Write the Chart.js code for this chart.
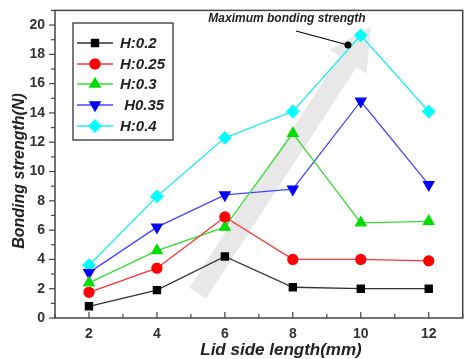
<!DOCTYPE html>
<html>
<head>
<meta charset="utf-8">
<script src="https://cdn.jsdelivr.net/npm/chart.js@4.4.0/dist/chart.umd.min.js"></script>
<style>
  html, body { margin: 0; padding: 0; background: #fff; }
  #wrap { width: 470px; height: 359px; position: relative; }
</style>
</head>
<body>
<div id="wrap"><canvas id="c" width="470" height="359"></canvas></div>
<script>
/* === DATA === */
const lidLengths = [2, 4, 6, 8, 10, 12];
const xTicks = [2, 4, 6, 8, 10, 12];
const yTicks = [0, 2, 4, 6, 8, 10, 12, 14, 16, 18, 20];
const seriesNames = ['H:0.2', 'H:0.25', 'H:0.3', ' H0.35', 'H:0.4'];
const h02 = [0.8, 1.9, 4.2, 2.1, 2.0, 2.0];
const h025 = [1.75, 3.4, 6.9, 4.0, 4.0, 3.9];
const h03 = [2.4, 4.6, 6.2, 12.6, 6.5, 6.6];
const h035 = [3.1, 6.2, 8.4, 8.8, 14.8, 9.1];
const h04 = [3.6, 8.3, 12.3, 14.1, 19.3, 14.1];
const annotationText = 'Maximum bonding strength';
const xTitle = 'Lid side length(mm)';
const yTitle = 'Bonding strength(N)';

const FONT = '"Liberation Sans", Arial, sans-serif';

function mkSet(label, vals, color, line, style, r) {
    return {
        label: label,
        data: lidLengths.map((x, i) => ({ x: x, y: vals[i] })),
        borderColor: line,
        backgroundColor: color,
        pointBorderColor: color,
        pointBackgroundColor: color,
        pointStyle: style,
        pointRadius: r,
        borderWidth: 1.3,
        tension: 0
    };
}

const datasets = [
    mkSet(seriesNames[0], h02, '#000000', '#333333', 'rect', 5),
    mkSet(seriesNames[1], h025, '#ff0000', '#ff3333', 'circle', 5),
    mkSet(seriesNames[2], h03, '#00dd00', '#33dd33', 'triangle', 6),
    mkSet(seriesNames[3], h035, '#0000ff', '#4444ff', 'triangle', 6),
    mkSet(seriesNames[4], h04, '#00ffff', '#22eeee', 'rectRot', 6)
];
datasets[3].pointRotation = 180;

/* gray arrow behind lines */
const arrowPlugin = {
    id: 'arrow',
    beforeDatasetsDraw(chart) {
        const { ctx, scales: { x, y } } = chart;
        const tx = x.getPixelForValue(5.2), ty = y.getPixelForValue(1.7);
        const hx = x.getPixelForValue(10.3), hy = y.getPixelForValue(19.9);
        const ang = Math.atan2(hy - ty, hx - tx);
        const len = Math.hypot(hx - tx, hy - ty);
        ctx.save();
        ctx.translate(tx, ty);
        ctx.rotate(ang);
        ctx.fillStyle = 'rgba(220,220,220,0.65)';
        ctx.beginPath();
        ctx.moveTo(0, -10);
        ctx.lineTo(len - 42, -10);
        ctx.lineTo(len - 42, -22);
        ctx.lineTo(len, 0);
        ctx.lineTo(len - 42, 22);
        ctx.lineTo(len - 42, 10);
        ctx.lineTo(0, 10);
        ctx.closePath();
        ctx.fill();
        ctx.restore();
    }
};

/* frame, ticks, titles, legend box, annotation */
const decorPlugin = {
    id: 'decor',
    afterDraw(chart) {
        const { ctx, chartArea: a, scales: { x, y } } = chart;
        ctx.save();
        ctx.strokeStyle = '#444';
        ctx.lineWidth = 1.5;
        ctx.strokeRect(a.left, a.top, a.right - a.left, a.bottom - a.top);

        ctx.lineWidth = 1.2;
        // x ticks inward
        for (let v = 1; v <= 13; v++) {
            const px = x.getPixelForValue(v);
            const l = v % 2 === 0 ? 6 : 4;
            ctx.beginPath();
            ctx.moveTo(px, a.bottom);
            ctx.lineTo(px, a.bottom - l);
            ctx.stroke();
        }
        // y ticks outward
        for (let v = 0; v <= 21; v++) {
            const py = y.getPixelForValue(v);
            const l = v % 2 === 0 ? 6 : 4;
            ctx.beginPath();
            ctx.moveTo(a.left, py);
            ctx.lineTo(a.left - l, py);
            ctx.stroke();
        }

        // axis titles
        ctx.fillStyle = '#222';
        ctx.textAlign = 'center';
        ctx.textBaseline = 'middle';
        ctx.font = 'italic bold 17px ' + FONT;
        ctx.fillText(xTitle, 281, 350);
        ctx.save();
        ctx.translate(20, 171);
        ctx.rotate(-Math.PI / 2);
        ctx.font = 'italic bold 16px ' + FONT;
        ctx.fillText(yTitle, 0, 0);
        ctx.restore();

        // legend
        const lx = 73, ly = 23, lw = 100, lh = 117;
        ctx.fillStyle = '#fff';
        ctx.fillRect(lx, ly, lw, lh);
        ctx.strokeStyle = '#333';
        ctx.lineWidth = 1.3;
        ctx.strokeRect(lx, ly, lw, lh);
        const rows = [43, 64, 84, 105, 126];
        chart.data.datasets.forEach((ds, i) => {
            const ry = rows[i];
            ctx.strokeStyle = ds.borderColor;
            ctx.lineWidth = 1.3;
            ctx.beginPath();
            ctx.moveTo(77, ry);
            ctx.lineTo(113, ry);
            ctx.stroke();
            ctx.fillStyle = ds.pointBackgroundColor;
            ctx.strokeStyle = ds.pointBorderColor;
            Chart.helpers.drawPoint(ctx, {
                pointStyle: ds.pointStyle,
                rotation: ds.pointRotation || 0,
                radius: ds.pointRadius,
                borderWidth: 1
            }, 95, ry);
            ctx.fillStyle = '#222';
            ctx.font = 'italic bold 15px ' + FONT;
            ctx.textBaseline = 'middle';
            ctx.textAlign = 'left';
            ctx.fillText(ds.label, 120, ry + 1);
        });

        // annotation
        ctx.fillStyle = '#222';
        ctx.font = 'italic bold 12px ' + FONT;
        ctx.textAlign = 'center';
        ctx.textBaseline = 'middle';
        ctx.fillText(annotationText, 287, 19);
        ctx.strokeStyle = '#000';
        ctx.lineWidth = 1.2;
        ctx.beginPath();
        ctx.moveTo(296, 31);
        ctx.lineTo(348, 45);
        ctx.stroke();
        ctx.fillStyle = '#000';
        ctx.beginPath();
        ctx.arc(348, 45, 3.5, 0, Math.PI * 2);
        ctx.fill();
        ctx.restore();
    }
};

new Chart(document.getElementById('c'), {
    type: 'line',
    data: { datasets: datasets },
    options: {
        responsive: false,
        animation: false,
        layout: { padding: { top: 8, right: 3, left: 0, bottom: 0 } },
        plugins: { legend: { display: false }, tooltip: { enabled: false } },
        scales: {
            x: {
                type: 'linear',
                min: 1,
                max: 13,
                afterBuildTicks: s => { s.ticks = xTicks.map(v => ({ value: v })); },
                afterFit: s => { s.height = 41; },
                grid: { display: false },
                border: { display: false },
                ticks: {
                    color: '#333',
                    padding: 0,
                    font: { family: FONT, size: 14, weight: 'bold' }
                },
                title: { display: false }
            },
            y: {
                min: 0,
                max: 21,
                afterBuildTicks: s => { s.ticks = yTicks.map(v => ({ value: v })); },
                afterFit: s => { s.width = 55; },
                grid: { display: false },
                border: { display: false },
                ticks: {
                    color: '#333',
                    padding: 2,
                    font: { family: FONT, size: 14, weight: 'bold' }
                },
                title: { display: false }
            }
        }
    },
    plugins: [arrowPlugin, decorPlugin]
});
</script>
</body>
</html>
